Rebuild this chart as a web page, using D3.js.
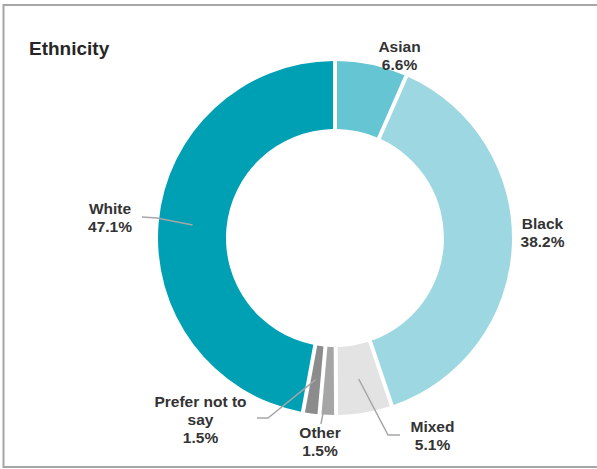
<!DOCTYPE html>
<html>
<head>
<meta charset="utf-8">
<script src="https://cdn.jsdelivr.net/npm/d3@7"></script>
<style>
  body { margin: 0; background: #fff; }
  svg { display: block; font-family: "Liberation Sans", Arial, sans-serif; }
</style>
</head>
<body>
<svg id="chart" width="597" height="469"></svg>
<script>
// Ethnicity breakdown, clockwise from 12 o'clock
const categories = ["Asian", "Black", "Mixed", "Other", "Prefer not to say", "White"];
const shares = [6.6, 38.2, 5.1, 1.5, 1.5, 47.1];
const nameLines = [["Asian"], ["Black"], ["Mixed"], ["Other"], ["Prefer not to", "say"], ["White"]];

// Styling and placement
const palette = ["#66C5D3", "#9DD8E2", "#E3E3E3", "#A6A6A6", "#8C8C8C", "#00A0B4"];
const labelLayout = {
  "Asian":             { x: 399.5, y: 52,    leader: null },
  "Black":             { x: 542.5, y: 229,   leader: null },
  "Mixed":             { x: 432.5, y: 432,   leader: [[388, 435], [400, 435]] },
  "Other":             { x: 320,   y: 438,   leader: [[321, 424]] },
  "Prefer not to say": { x: 200.5, y: 406.5, leader: [[268, 418], [257, 418]] },
  "White":             { x: 110,   y: 214,   leader: [[157, 218], [142, 217]] }
};

const width = 597, height = 469;
const cx = 335, cy = 238, outerR = 177, innerR = 109;
const lineH = 18;

const svg = d3.select("#chart");

// Panel frame (open on the right)
svg.append("path")
  .attr("d", `M${width},5 H3.5 V467 H${width}`)
  .attr("fill", "none")
  .attr("stroke", "#A6A6A6")
  .attr("stroke-width", 2);

// Title
svg.append("text")
  .attr("x", 29).attr("y", 55)
  .attr("font-size", 19).attr("font-weight", "bold")
  .attr("fill", "#262626")
  .text("Ethnicity");

const data = categories.map((c, i) => ({ name: c, value: shares[i], lines: nameLines[i], color: palette[i] }));

const pie = d3.pie().value(d => d.value).sort(null);
const arc = d3.arc().innerRadius(innerR).outerRadius(outerR).padAngle(0.02).padRadius(200);
const mid = d3.arc().innerRadius(innerR).outerRadius(outerR);

const g = svg.append("g").attr("transform", `translate(${cx},${cy})`);
const arcs = pie(data);

g.selectAll("path.slice")
  .data(arcs)
  .join("path")
  .attr("class", "slice")
  .attr("d", arc)
  .attr("fill", d => d.data.color);

// Leader lines from slice centroids to labels
const line = d3.line();
arcs.forEach(a => {
  const lay = labelLayout[a.data.name];
  if (!lay.leader) return;
  const c = mid.centroid(a);
  const pts = [[cx + c[0], cy + c[1]], ...lay.leader];
  svg.append("path")
    .attr("d", line(pts))
    .attr("fill", "none")
    .attr("stroke", "#A6A6A6")
    .attr("stroke-width", 1.5);
});

// Category labels with percentages
const fmt = d3.format(".1f");
arcs.forEach(a => {
  const lay = labelLayout[a.data.name];
  const t = svg.append("text")
    .attr("text-anchor", "middle")
    .attr("font-size", 15.5)
    .attr("font-weight", "bold")
    .attr("fill", "#333333");
  const rows = [...a.data.lines, fmt(a.data.value) + "%"];
  rows.forEach((r, i) => {
    t.append("tspan").attr("x", lay.x).attr("y", lay.y + i * lineH).text(r);
  });
});
</script>
</body>
</html>
